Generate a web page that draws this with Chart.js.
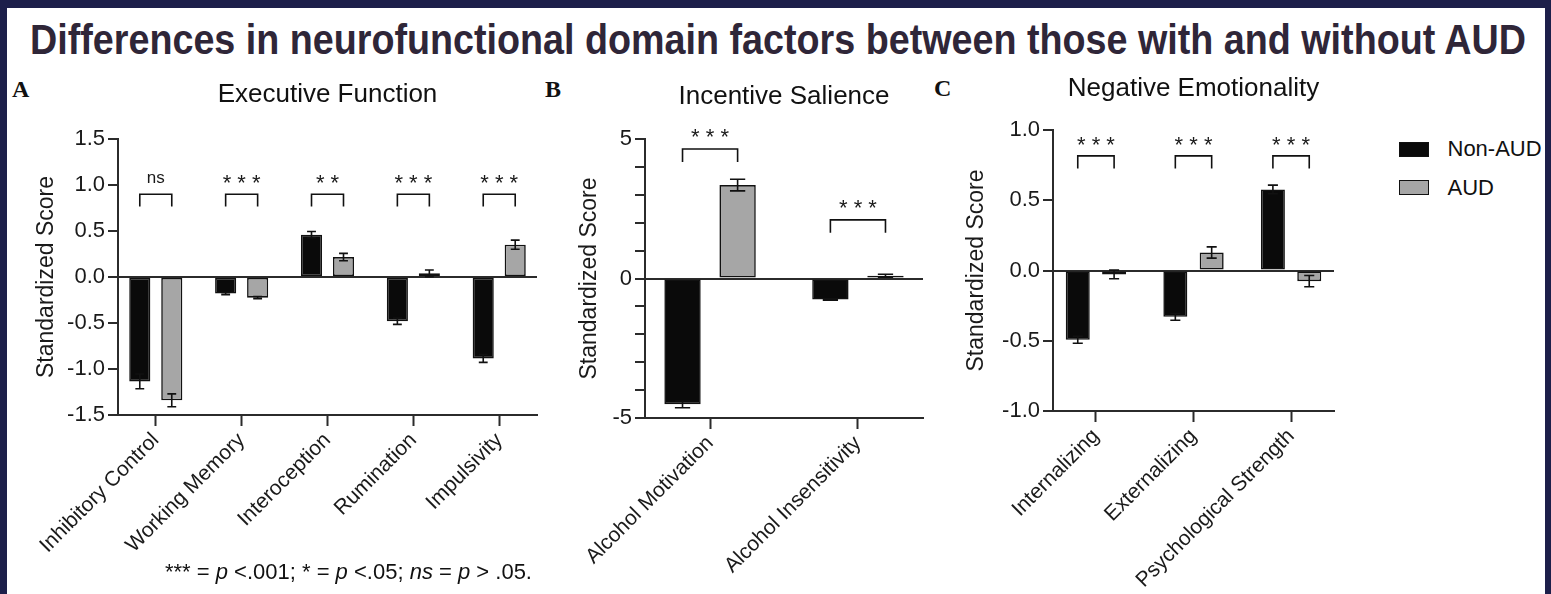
<!DOCTYPE html>
<html>
<head>
<meta charset="utf-8">
<script src="https://cdn.jsdelivr.net/npm/chart.js@4.4.1/dist/chart.umd.min.js"></script>
<style>
html,body{margin:0;padding:0;width:1551px;height:594px;overflow:hidden;background:#1d1f4a;font-family:"Liberation Sans",Arial,sans-serif;}
#panel{position:absolute;left:7px;top:8px;width:1538px;height:586px;background:#fff;}
canvas{position:absolute;}
#title{position:absolute;left:30px;top:19px;font-weight:bold;font-size:42px;line-height:42px;color:#2f2638;white-space:nowrap;transform-origin:0 0;}
.letter{position:absolute;font-family:"Liberation Serif","Times New Roman",serif;font-weight:bold;font-size:24px;line-height:24px;color:#111;}
#foot{position:absolute;right:1019px;top:561px;font-size:22px;line-height:22px;color:#111;white-space:nowrap;}
#legend{position:absolute;left:1399px;top:130px;}
.lrow{display:flex;align-items:center;height:38.5px;}
.lbox{width:30px;height:15px;box-sizing:border-box;border:1.6px solid #111;}
.ltxt{margin-left:18.5px;font-size:22px;color:#111;}
</style>
</head>
<body>
<div id="panel"></div>
<div id="title">Differences in neurofunctional domain factors between those with and without AUD</div>
<div class="letter" style="left:12px;top:77.4px;">A</div>
<div class="letter" style="left:545px;top:77.4px;">B</div>
<div class="letter" style="left:934px;top:76.4px;">C</div>
<canvas id="cA" width="515" height="524" style="left:30px;top:70px;"></canvas>
<canvas id="cB" width="390" height="524" style="left:545px;top:70px;"></canvas>
<canvas id="cC" width="410" height="524" style="left:935px;top:70px;"></canvas>
<div id="legend"></div>
<div id="foot">*** = <i>p</i> &lt;.001; * = <i>p</i> &lt;.05; <i>ns</i> = <i>p</i> &gt; .05.</div>
<script>
// ---------------- data ----------------
const seriesNames = ['Non-AUD', 'AUD'];

const catsA = ['Inhibitory Control', 'Working Memory', 'Interoception', 'Rumination', 'Impulsivity'];
const nonAudA = [-1.135, -0.18, 0.46, -0.48, -0.885];
const audA = [-1.34, -0.225, 0.217, 0.04, 0.351];
const nonAudSeA = [0.08, 0.012, 0.035, 0.035, 0.043];
const audSeA = [0.07, 0.012, 0.04, 0.036, 0.05];
const sigA = ['ns', '* * *', '* *', '* * *', '* * *'];
const brTopA = [0.9, 0.9, 0.9, 0.9, 0.9];
const brLegA = [0.767, 0.767, 0.767, 0.767, 0.767];
const brTextA = [1.07, 1.07, 1.07, 1.07, 1.07];
const yTicksA = {min: -1.5, max: 1.5, step: 0.5};

const catsB = ['Alcohol Motivation', 'Alcohol Insensitivity'];
const nonAudB = [-4.51, -0.755];
const audB = [3.35, 0.1];
const nonAudSeB = [0.12, 0.025];
const audSeB = [0.21, 0.05];
const sigB = ['* * *', '* * *'];
const brTopB = [4.64, 2.1];
const brLegB = [4.18, 1.64];
const brTextB = [5.2, 2.66];
const yTicksB = {min: -5, max: 5, step: 1, labelEvery: 5};

const catsC = ['Internalizing', 'Externalizing', 'Psychological Strength'];
const nonAudC = [-0.493, -0.33, 0.577];
const audC = [-0.028, 0.128, -0.076];
const nonAudSeC = [0.025, 0.024, 0.031];
const audSeC = [0.031, 0.04, 0.04];
const sigC = ['* * *', '* * *', '* * *'];
const brTopC = [0.816, 0.816, 0.816];
const brLegC = [0.726, 0.726, 0.726];
const brTextC = [0.925, 0.925, 0.925];
const yTicksC = {min: -1, max: 1, step: 0.5};

// ---------------- styles ----------------
const FONT = "'Liberation Sans', Arial, sans-serif";
const NON_COLOR = '#0a0a0a';
const AUD_COLOR = '#a6a6a6';
const EDGE = '#111111';
const AXIS = '#2b2b2b';
const TXT = '#1a1a1a';
const PAD = 0.44; // fraction of a category left empty at each end of the x axis

Chart.defaults.font.family = FONT;
Chart.defaults.color = TXT;

// title fit
(function(){
  const t = document.getElementById('title');
  const w = t.getBoundingClientRect().width;
  t.style.transform = 'scaleX(' + (1496 / w) + ')';
})();

function annot(o) {
  return {
    id: 'annot',
    afterDatasetsDraw(chart) {
      const ctx = chart.ctx;
      const ys = chart.scales.y;
      ctx.save();
      ctx.strokeStyle = EDGE;
      ctx.lineWidth = 1.6;
      chart.data.datasets.forEach((ds, di) => {
        chart.getDatasetMeta(di).data.forEach((bar, i) => {
          const v = ds.data[i], e = ds.se[i];
          const p1 = ys.getPixelForValue(v + e), p2 = ys.getPixelForValue(v - e);
          const half = bar.width * 0.21;
          ctx.beginPath();
          ctx.moveTo(bar.x, p1); ctx.lineTo(bar.x, p2);
          ctx.moveTo(bar.x - half, p1); ctx.lineTo(bar.x + half, p1);
          ctx.moveTo(bar.x - half, p2); ctx.lineTo(bar.x + half, p2);
          ctx.stroke();
        });
      });
      const m0 = chart.getDatasetMeta(0).data, m1 = chart.getDatasetMeta(1).data;
      o.sig.forEach((lab, i) => {
        const x1 = m0[i].x, x2 = m1[i].x;
        const yt = ys.getPixelForValue(o.brTop[i]);
        const yl = ys.getPixelForValue(o.brLeg[i]);
        const ytx = ys.getPixelForValue(o.brText[i]);
        ctx.beginPath();
        ctx.moveTo(x1, yl); ctx.lineTo(x1, yt); ctx.lineTo(x2, yt); ctx.lineTo(x2, yl);
        ctx.stroke();
        ctx.font = (lab === 'ns' ? '17px ' : '22px ') + FONT;
        ctx.fillStyle = TXT;
        ctx.textAlign = 'center';
        ctx.textBaseline = 'alphabetic';
        const m = ctx.measureText(lab);
        ctx.fillText(lab, (x1 + x2) / 2, ytx + (m.actualBoundingBoxAscent - m.actualBoundingBoxDescent) / 2);
      });
      ctx.restore();
    }
  };
}

function makeChart(id, o) {
  return new Chart(document.getElementById(id), {
    type: 'bar',
    data: {
      labels: o.labels,
      datasets: [
        {label: seriesNames[0], data: o.non, se: o.nonSe, backgroundColor: NON_COLOR, borderColor: EDGE, borderWidth: 1.6, borderSkipped: false},
        {label: seriesNames[1], data: o.aud, se: o.audSe, backgroundColor: AUD_COLOR, borderColor: EDGE, borderWidth: 1.6, borderSkipped: false}
      ]
    },
    options: {
      responsive: false,
      animation: false,
      events: [],
      datasets: {bar: {categoryPercentage: 0.745, barPercentage: 0.66}},
      layout: {padding: {left: 0, right: o.padRight, top: 0, bottom: 0}},
      plugins: {
        legend: {display: false},
        tooltip: {enabled: false},
        title: {
          display: true, text: o.title, fullSize: false,
          font: {size: 26, weight: 'normal'}, color: '#111',
          padding: {top: o.tTop, bottom: o.tBottom}
        }
      },
      scales: {
        x: {
          offset: true,
          grid: {display: true, drawOnChartArea: false, offset: false, drawTicks: true, tickLength: 11, tickColor: AXIS, tickWidth: 2},
          border: {display: true, color: AXIS, width: 2},
          ticks: {autoSkip: false, minRotation: 45, maxRotation: 45, font: {size: 21}, color: TXT, padding: 2},
          afterBuildTicks: (s) => { s._startValue = s.min - PAD; s._valueRange = (s.max - s.min) + 2 * PAD; },
          afterFit: (s) => { s.height = o.xH; s.paddingLeft = 0; s.paddingRight = 0; }
        },
        y: {
          min: o.yt.min, max: o.yt.max,
          ticks: {
            autoSkip: false,
            stepSize: o.yt.step, font: {size: 22}, color: TXT, padding: 3,
            callback: (v) => o.yt.labelEvery ? (Math.abs(v % o.yt.labelEvery) < 1e-9 ? String(v) : '') : Number(v).toFixed(1)
          },
          grid: {
            drawOnChartArea: true, drawTicks: true, tickLength: 10, tickColor: AXIS, tickWidth: 2, lineWidth: 2,
            color: (c) => (c.tick && Math.abs(c.tick.value) < 1e-9) ? AXIS : 'rgba(0,0,0,0)'
          },
          border: {display: true, color: AXIS, width: 2},
          title: {display: true, text: 'Standardized Score', font: {size: 23}, color: TXT, padding: {top: o.yTitlePad, bottom: 0}},
          afterFit: (s) => { s.width = o.yW; }
        }
      }
    },
    plugins: [annot(o)]
  });
}

const chartA = makeChart('cA', {
  labels: catsA, non: nonAudA, aud: audA, nonSe: nonAudSeA, audSe: audSeA,
  sig: sigA, brTop: brTopA, brLeg: brLegA, brText: brTextA, yt: yTicksA,
  title: 'Executive Function', tTop: 9.4, tBottom: 28.4, xH: 179, yW: 88, yTitlePad: 2.9, padRight: 8
});
const chartB = makeChart('cB', {
  labels: catsB, non: nonAudB, aud: audB, nonSe: nonAudSeB, audSe: audSeB,
  sig: sigB, brTop: brTopB, brLeg: brLegB, brText: brTextB, yt: yTicksB,
  title: 'Incentive Salience', tTop: 10.9, tBottom: 26.9, xH: 176, yW: 100, yTitlePad: 31.2, padRight: 12
});
const chartC = makeChart('cC', {
  labels: catsC, non: nonAudC, aud: audC, nonSe: nonAudSeC, audSe: audSeC,
  sig: sigC, brTop: brTopC, brLeg: brLegC, brText: brTextC, yt: yTicksC,
  title: 'Negative Emotionality', tTop: 2.9, tBottom: 25.9, xH: 183, yW: 118, yTitlePad: 27.9, padRight: 11
});

// HTML legend generated from chart C's datasets
(function(){
  let items;
  try { items = Chart.defaults.plugins.legend.labels.generateLabels(chartC); }
  catch (e) { items = chartC.data.datasets.map(d => ({text: d.label, fillStyle: d.backgroundColor, strokeStyle: d.borderColor})); }
  const lg = document.getElementById('legend');
  items.forEach(it => {
    const row = document.createElement('div'); row.className = 'lrow';
    const b = document.createElement('div'); b.className = 'lbox';
    b.style.background = it.fillStyle; b.style.borderColor = it.strokeStyle;
    const t = document.createElement('div'); t.className = 'ltxt'; t.textContent = it.text;
    row.appendChild(b); row.appendChild(t); lg.appendChild(row);
  });
})();
</script>
</body>
</html>
